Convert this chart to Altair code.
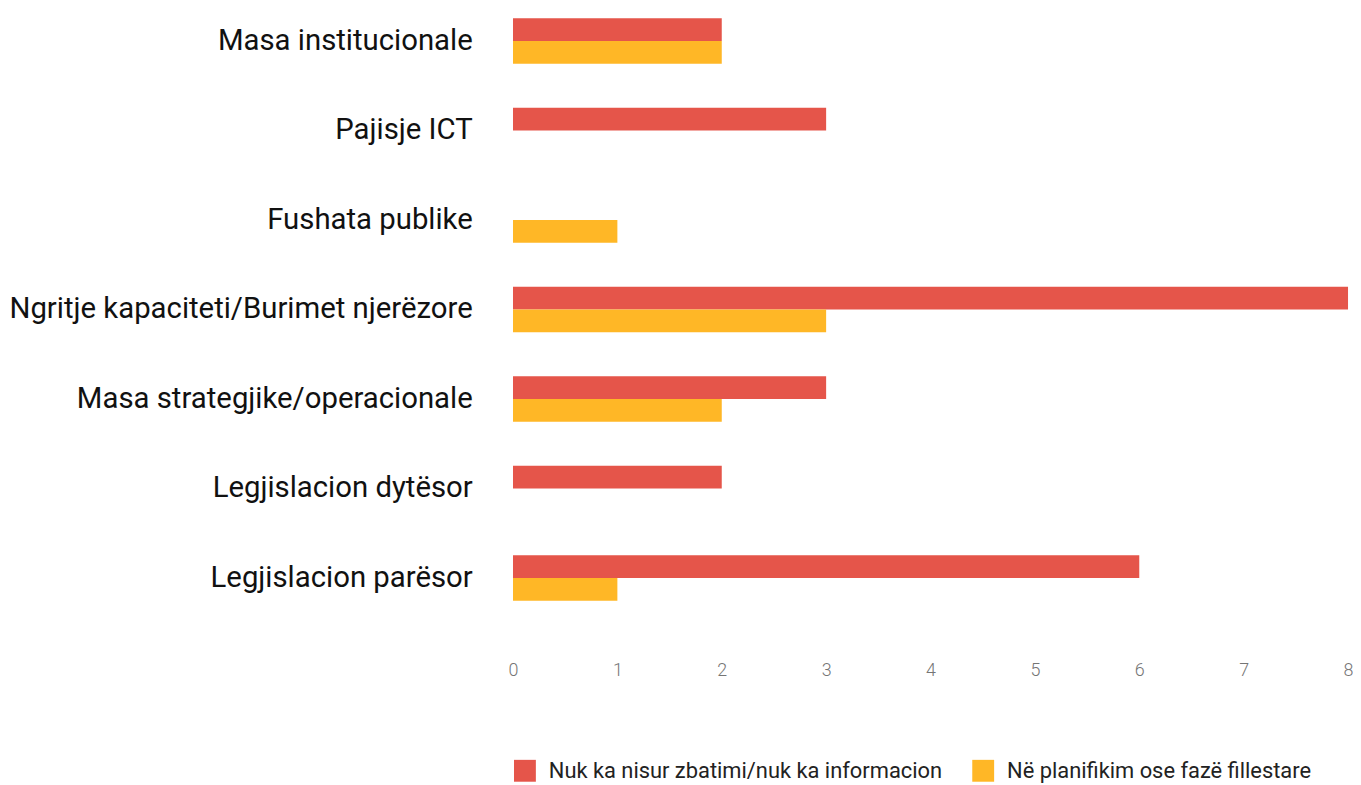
import altair as alt
import pandas as pd

categories = [
    "Masa institucionale",
    "Pajisje ICT",
    "Fushata publike",
    "Ngritje kapaciteti/Burimet njerëzore",
    "Masa strategjike/operacionale",
    "Legjislacion dytësor",
    "Legjislacion parësor",
]
series = ["Nuk ka nisur zbatimi/nuk ka informacion", "Në planifikim ose fazë fillestare"]
not_started = [2, 3, 0, 8, 3, 2, 6]
planning = [2, 0, 1, 3, 2, 0, 1]
colors = ["#E5554A", "#FFB726"]

rows = []
for c, a, b in zip(categories, not_started, planning):
    rows.append({"cat": c, "series": series[0], "value": a})
    rows.append({"cat": c, "series": series[1], "value": b})
df = pd.DataFrame(rows)

chart = alt.Chart(df).mark_bar().encode(
    y=alt.Y("cat:N", sort=categories, title=None,
            scale=alt.Scale(paddingInner=0.49, paddingOuter=0.033),
            axis=alt.Axis(labelFont="Roboto", labelFontSize=29.5, labelColor="#111",
                          labelPadding=41, ticks=False, domain=False,
                          minExtent=504, maxExtent=504, labelLimit=700)),
    yOffset=alt.YOffset("series:N", sort=series),
    x=alt.X("value:Q", title=None,
            scale=alt.Scale(domain=[0, 8], nice=False),
            axis=alt.Axis(values=list(range(9)), grid=False, domain=False, ticks=False,
                          labelFont="Roboto", labelFontWeight=300, labelFontSize=18,
                          labelColor="#757575", offset=56, labelPadding=2,
                          labelFlush=False)),
    color=alt.Color("series:N", sort=series,
                    scale=alt.Scale(domain=series, range=colors),
                    legend=alt.Legend(title=None, orient="none", direction="horizontal",
                                      legendX=1, legendY=749, symbolType="square",
                                      symbolSize=484, symbolStrokeWidth=0,
                                      labelFont="Roboto", labelFontSize=22,
                                      labelColor="#222", columnPadding=30,
                                      labelOffset=13, padding=0, labelLimit=700)),
).properties(
    width=840, height=592,
    padding={"left": 0, "top": 5, "right": 0, "bottom": 5},
).configure_view(stroke=None)

chart.save("out.html", embed_options={"renderer": "svg", "actions": False})
